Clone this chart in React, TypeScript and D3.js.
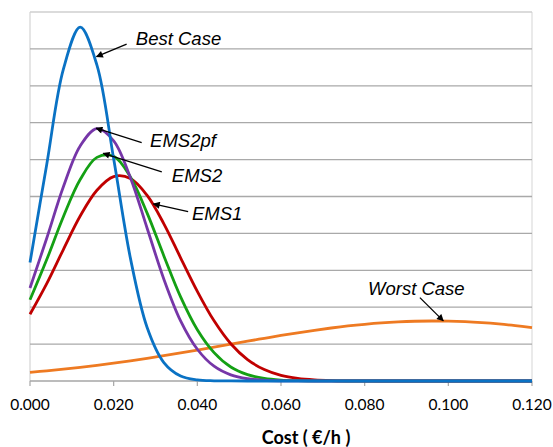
import * as d3 from 'd3'

// cost samples (€/h)
const costs = [
  0.0, 0.004, 0.008, 0.012, 0.016, 0.02, 0.024, 0.028, 0.032, 0.036, 0.04,
  0.044, 0.048, 0.052, 0.056, 0.06, 0.064, 0.068, 0.072, 0.076, 0.08, 0.084,
  0.088, 0.092, 0.096, 0.1, 0.104, 0.108, 0.112, 0.116, 0.12,
]

// density, one value per cost sample
const bestCase = [
  3.21, 5.87, 8.46, 9.59, 8.56, 6.02, 3.33, 1.45, 0.5, 0.134, 0.029, 0.005,
  0.001, 0, 0, 0, 0, 0, 0, 0, 0, 0, 0, 0, 0, 0, 0, 0, 0, 0, 0,
]
const ems2pf = [
  2.52, 3.87, 5.27, 6.37, 6.84, 6.51, 5.51, 4.14, 2.76, 1.63, 0.86, 0.4, 0.166,
  0.061, 0.02, 0.006, 0.0015, 0, 0, 0, 0, 0, 0, 0, 0, 0, 0, 0, 0, 0, 0,
]
const ems2 = [
  2.2, 3.29, 4.46, 5.46, 6.06, 6.09, 5.53, 4.55, 3.39, 2.28, 1.39, 0.77, 0.38,
  0.174, 0.071, 0.026, 0.009, 0.003, 0.001, 0, 0, 0, 0, 0, 0, 0, 0, 0, 0, 0, 0,
]
const ems1 = [
  1.81, 2.64, 3.57, 4.47, 5.17, 5.54, 5.49, 5.03, 4.26, 3.34, 2.43, 1.63, 1.01,
  0.58, 0.31, 0.152, 0.069, 0.029, 0.011, 0.004, 0.001, 0, 0, 0, 0, 0, 0, 0, 0,
  0, 0,
]
const worstCase = [
  0.235, 0.275, 0.319, 0.369, 0.423, 0.482, 0.546, 0.614, 0.686, 0.761, 0.838,
  0.918, 0.998, 1.079, 1.157, 1.234, 1.307, 1.375, 1.436, 1.491, 1.537, 1.575,
  1.602, 1.619, 1.626, 1.622, 1.607, 1.581, 1.546, 1.501, 1.448,
]

const xTicks = [0, 0.02, 0.04, 0.06, 0.08, 0.1, 0.12]
const yGrid = [1, 2, 3, 4, 5, 6, 7, 8, 9, 10]

// drawing order: last one on top
const series = [
  { name: 'Worst Case', values: worstCase, color: '#EE7A22' },
  { name: 'EMS1', values: ems1, color: '#C00000' },
  { name: 'EMS2', values: ems2, color: '#14A014' },
  { name: 'EMS2pf', values: ems2pf, color: '#7636A8' },
  { name: 'Best Case', values: bestCase, color: '#0A72C4' },
]

// label text start / arrow tail / arrow tip, in data units
const labels = [
  { text: 'Best Case', tx: 0.0253, ty: 9.1, ax: 0.0231, ay: 9.13, bx: 0.0159, by: 8.79 },
  { text: 'EMS2pf', tx: 0.0287, ty: 6.34, ax: 0.0267, ay: 6.46, bx: 0.0158, by: 6.85 },
  { text: 'EMS2', tx: 0.0339, ty: 5.39, ax: 0.0315, ay: 5.67, bx: 0.0175, by: 6.17 },
  { text: 'EMS1', tx: 0.0387, ty: 4.36, ax: 0.0378, ay: 4.59, bx: 0.0295, by: 4.8 },
  { text: 'Worst Case', tx: 0.0808, ty: 2.33, ax: 0.0932, ay: 2.26, bx: 0.0988, by: 1.63 },
]

const width = 553
const height = 447
const margin = { top: 12, right: 21, bottom: 66, left: 30 }

const App = () => {
  const xScale = d3
    .scaleLinear()
    .domain([0, 0.12])
    .range([margin.left, width - margin.right])

  const yScale = d3
    .scaleLinear()
    .domain([0, 10])
    .range([height - margin.bottom, margin.top])

  const line = (vals: number[]) =>
    d3
      .line<number>()
      .x((_, i) => xScale(costs[i]))
      .y(d => yScale(d))
      .curve(d3.curveCatmullRom.alpha(0.5))(vals) as string

  const y0 = yScale(0)
  const x0 = xScale(0)
  const x1 = xScale(0.12)

  return (
    <svg
      width={width}
      height={height}
      style={{ position: 'absolute', left: 0, top: 0, background: '#fff' }}
    >
      <defs>
        <marker
          id="arr"
          viewBox="0 0 10 10"
          refX={9}
          refY={5}
          markerWidth={8}
          markerHeight={7}
          markerUnits="userSpaceOnUse"
          orient="auto"
        >
          <path d="M0,0 L10,5 L0,10 z" fill="#000" />
        </marker>
      </defs>

      {/* plot frame */}
      <line x1={x0} x2={x0} y1={yScale(10)} y2={y0} stroke="#d4d4d4" strokeWidth={1.2} />
      <line x1={x1} x2={x1} y1={yScale(10)} y2={y0} stroke="#dcdcdc" strokeWidth={1.2} />

      {yGrid.map(g => (
        <line
          key={g}
          x1={x0}
          x2={x1}
          y1={yScale(g)}
          y2={yScale(g)}
          stroke={g === 10 ? '#cfcfcf' : '#a9a9a9'}
          strokeWidth={1.3}
        />
      ))}

      {/* x axis */}
      <line x1={x0} x2={x1} y1={y0} y2={y0} stroke="#a6a6a6" strokeWidth={1.3} />
      {xTicks.map(t => (
        <g key={t}>
          <line
            x1={xScale(t)}
            x2={xScale(t)}
            y1={y0}
            y2={y0 + 5}
            stroke="#a6a6a6"
            strokeWidth={1.2}
          />
          <text
            x={xScale(t)}
            y={410}
            textAnchor="middle"
            fontFamily="Lato, 'Noto Sans', sans-serif"
            fontSize={15.5}
            fill="#000"
          >
            {d3.format('.3f')(t)}
          </text>
        </g>
      ))}
      <text
        x={306}
        y={444}
        textAnchor="middle"
        fontFamily="Lato, 'Noto Sans', sans-serif"
        fontWeight="bold"
        fontSize={18}
        fill="#000"
      >
        Cost ( €/h )
      </text>

      {series.map(s => (
        <path
          key={s.name}
          d={line(s.values)}
          fill="none"
          stroke={s.color}
          strokeWidth={2.8}
          strokeLinejoin="round"
        />
      ))}

      {labels.map(l => (
        <g key={l.text}>
          <line
            x1={xScale(l.ax)}
            y1={yScale(l.ay)}
            x2={xScale(l.bx)}
            y2={yScale(l.by)}
            stroke="#000"
            strokeWidth={1.3}
            markerEnd="url(#arr)"
          />
          <text
            x={xScale(l.tx)}
            y={yScale(l.ty)}
            fontFamily="'Liberation Sans', Arial, sans-serif"
            fontStyle="italic"
            fontSize={18.5}
            fill="#000"
          >
            {l.text}
          </text>
        </g>
      ))}
    </svg>
  )
}

export default App
